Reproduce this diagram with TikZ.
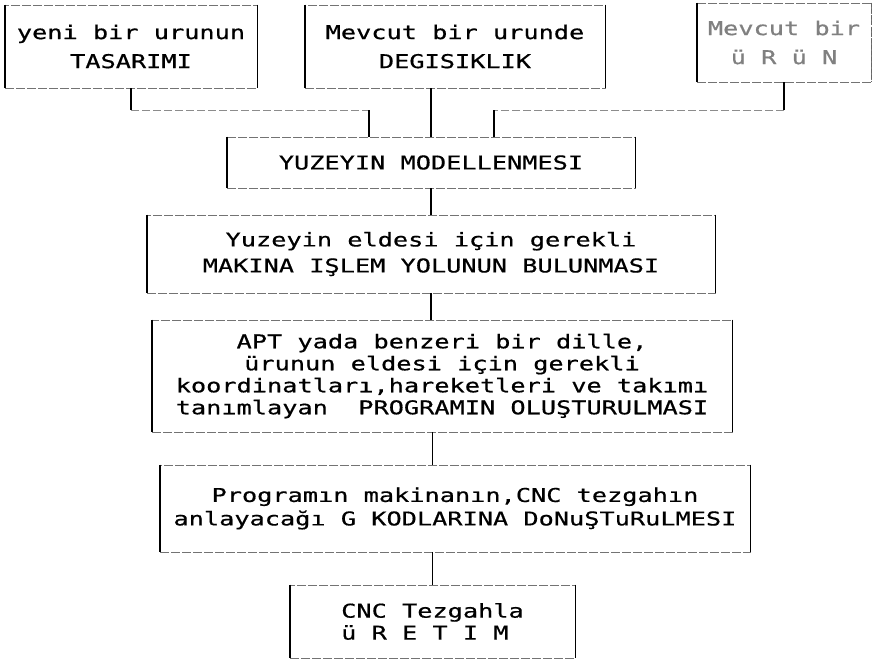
\documentclass[tikz,border=0pt]{standalone}
\usepackage{fontspec}
\newfontfamily\nokta[FakeStretch=1.33,FakeBold=0.6]{DejaVu Sans Mono}
\tikzset{
  kutu/.style={draw=black!55, dash pattern=on 9pt off 2pt, line width=0.7pt, inner sep=0pt, align=center,
    font=\nokta\fontsize{19}{22}\selectfont},
  kenar/.style={draw=black, line width=1.7pt},
  bag/.style={draw=black, line width=1.7pt},
  yatay/.style={draw=black!45, dash pattern=on 8pt off 3pt, line width=0.8pt}
}
\begin{document}
\begin{tikzpicture}[x=1pt,y=-1pt]
	\useasboundingbox (0,0) rectangle (875,661);
	\node[kutu,minimum width=252,minimum height=83] (A) at (131,46.5) {yeni bir urunun\\[7pt]TASARIMI};
	\node[kutu,minimum width=300,minimum height=83] (B) at (455,46.5) {Mevcut bir urunde\\[7pt]DEGISIKLIK};
	\node[kutu,minimum width=174,minimum height=79,text=black!50] (C) at (784,42.5) {Mevcut bir\\[7pt]ü R ü N};
	\node[kutu,minimum width=408,minimum height=51] (D) at (431,162.5) {YUZEYIN MODELLENMESI};
	\node[kutu,minimum width=568,minimum height=78] (E) at (431,254) {Yuzeyin eldesi için gerekli\\[4pt]MAKINA IŞLEM YOLUNUN BULUNMASI};
	\node[kutu,minimum width=580,minimum height=112] (F) at (442,376) {APT yada benzeri bir dille,\\ ürunun eldesi için gerekli\\ koordinatları,hareketleri ve takımı\\ tanımlayan\ \ PROGRAMIN OLUŞTURULMASI};
	\node[kutu,minimum width=590,minimum height=87] (G) at (455,508.5) {Programın makinanın,CNC tezgahın\\[1.5pt]anlayacağı G KODLARINA DoNuŞTuRuLMESI};
	\node[kutu,minimum width=285,minimum height=73,align=left] (H) at (432.5,621.5) {CNC Tezgahla\\ü R E T I M};
	\foreach \n in {A,B,D,E,F,G,H}
		\draw[kenar] (\n.north west) -- (\n.south west) (\n.north east) -- (\n.south east);
	\draw[kenar] (C.north west) -- (C.south west);
	\draw[kenar, draw=black!60, dash pattern=on 4pt off 2pt] (C.north east) -- (C.south east);
	\coordinate (d1) at ([xshift=-62pt]D.north);
	\coordinate (d3) at ([xshift=63pt]D.north);
	\draw[bag] (A.south) -- ++(0,22) coordinate (a1);
	\draw[yatay] (a1) -- (a1 -| d1);
	\draw[bag] (a1 -| d1) -- (d1);
	\draw[bag] (D.north |- B.south) -- (D.north);
	\draw[bag] (C.south) -- ++(0,28) coordinate (c1);
	\draw[yatay] (c1) -- (c1 -| d3);
	\draw[bag] (c1 -| d3) -- (d3);
	\draw[bag] (D.south) -- (D.south |- E.north);
	\draw[bag] (E.south) -- (E.south |- F.north);
	\draw[bag] (F.south -| H.north) -- (G.north -| H.north);
	\draw[bag] (G.south -| H.north) -- (H.north);
\end{tikzpicture}
\end{document}
